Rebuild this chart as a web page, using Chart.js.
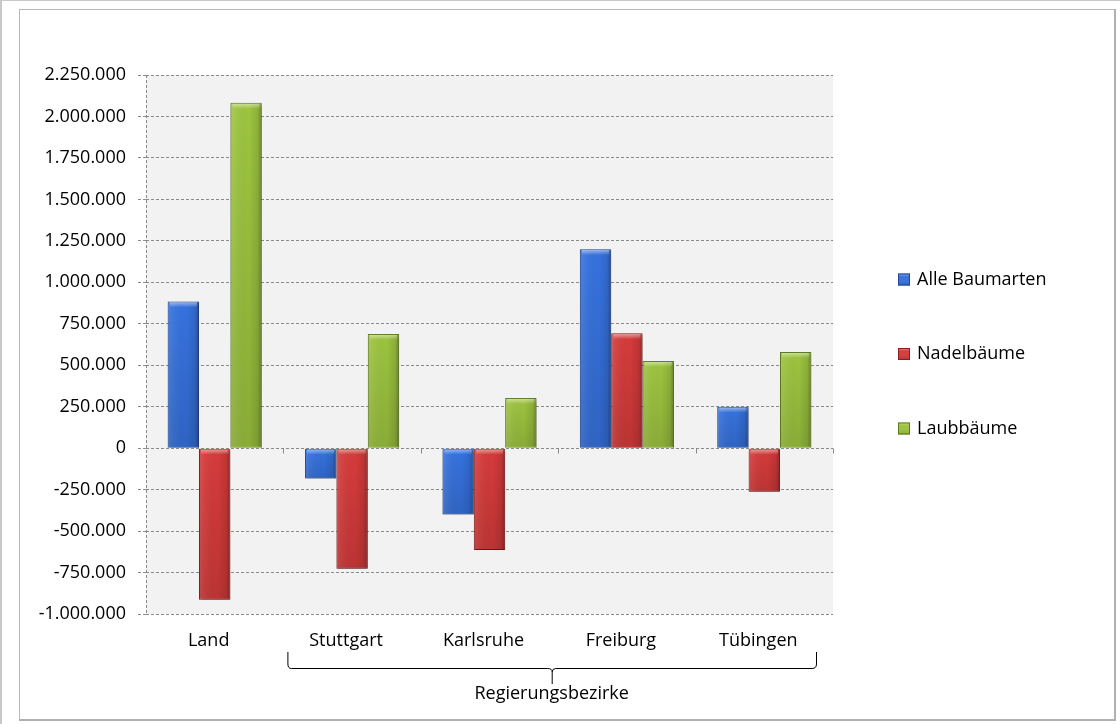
<!DOCTYPE html>
<html>
<head>
<meta charset="utf-8">
<script src="https://cdn.jsdelivr.net/npm/chart.js@4.4.1/dist/chart.umd.min.js"></script>
<style>
html,body{margin:0;padding:0;background:#fff;}
body{width:1120px;height:724px;overflow:hidden;position:relative;}
#outer{position:absolute;left:0;top:0;width:1120px;height:724px;border-left:2px solid #c8c8c8;border-top:1px solid #c8c8c8;box-sizing:border-box;}
#frame{position:absolute;left:19px;top:9px;width:1097px;height:712px;border:1px solid #b8b8b8;border-right:2px solid #b0b0b0;border-bottom:2px solid #b0b0b0;box-sizing:border-box;}
#c{position:absolute;left:0;top:0;}
</style>
</head>
<body>
<div id="outer"></div>
<div id="frame"></div>
<canvas id="c" width="1120" height="724"></canvas>
<script>
// ---- data ----
const categories = ["Land", "Stuttgart", "Karlsruhe", "Freiburg", "Tübingen"];
const seriesNames = ["Alle Baumarten", "Nadelbäume", "Laubbäume"];
const alleBaumarten = [885000, -183000, -400000, 1200000, 250000];
const nadelbaeume = [-914000, -727000, -614000, 693000, -263000];
const laubbaeume = [2082000, 689000, 303000, 526000, 580000];
const yMin = -1000000;
const yMax = 2250000;
const yStep = 250000;
const groupTitle = "Regierungsbezirke";

const FONT = "'Open Sans', 'Noto Sans', sans-serif";
const FSIZE = 18;
const fills = ["#3672de", "#d63b3b", "#9dc43f"];
const edges = ["#22478f", "#882020", "#5c7a20"];

function fmt(v) {
  const s = Math.abs(v).toString().replace(/\B(?=(\d{3})+(?!\d))/g, ".");
  return (v < 0 ? "-" : "") + s;
}

const plotBg = {
  id: "plotBg",
  beforeDraw(chart) {
    const {ctx, chartArea: a} = chart;
    ctx.save();
    ctx.fillStyle = "#f2f2f2";
    ctx.fillRect(a.left, a.top, a.right - a.left, a.bottom - a.top);
    ctx.restore();
  },
  beforeDatasetsDraw(chart) {
    const ctx = chart.ctx;
    ctx.save();
    ctx.shadowColor = "rgba(0,0,0,0.35)";
    ctx.shadowBlur = 3;
    ctx.shadowOffsetX = 1;
    ctx.shadowOffsetY = 2;
  },
  afterDatasetsDraw(chart) {
    const ctx = chart.ctx;
    ctx.restore();
    chart.data.datasets.forEach((ds, di) => {
      const meta = chart.getDatasetMeta(di);
      meta.data.forEach(el => {
        const w = el.width;
        const left = el.x - w / 2 + 1;
        const right = el.x + w / 2 - 1;
        const top = Math.min(el.y, el.base) + 1;
        const bottom = Math.max(el.y, el.base) - 1;
        if (bottom - top < 1) return;
        ctx.save();
        let g = ctx.createLinearGradient(left, 0, right, 0);
        g.addColorStop(0, "rgba(255,255,255,0.10)");
        g.addColorStop(0.12, "rgba(255,255,255,0.06)");
        g.addColorStop(0.6, "rgba(0,0,0,0)");
        g.addColorStop(0.9, "rgba(0,0,0,0.10)");
        g.addColorStop(1, "rgba(0,0,0,0.28)");
        ctx.fillStyle = g;
        ctx.fillRect(left, top, right - left, bottom - top);
        let gv = ctx.createLinearGradient(0, top, 0, bottom);
        gv.addColorStop(0, "rgba(0,0,0,0)");
        gv.addColorStop(1, "rgba(0,0,0,0.12)");
        ctx.fillStyle = gv;
        ctx.fillRect(left, top, right - left, bottom - top);
        const cap = Math.min(5, bottom - top);
        let gc = ctx.createLinearGradient(0, top, 0, top + cap);
        gc.addColorStop(0, "rgba(255,255,255,0.45)");
        gc.addColorStop(1, "rgba(255,255,255,0)");
        ctx.fillStyle = gc;
        ctx.fillRect(left + 1, top, right - left - 2, cap);
        ctx.restore();
      });
    });
  },
  afterDraw(chart) {
    const {ctx, chartArea: a, scales: {x, y}} = chart;
    ctx.save();
    ctx.strokeStyle = "#8a8a8a";
    ctx.lineWidth = 1;
    ctx.setLineDash([3, 2]);
    ctx.beginPath();
    ctx.moveTo(Math.round(a.left) + 0.5, a.top);
    ctx.lineTo(Math.round(a.left) + 0.5, a.bottom);
    ctx.stroke();
    ctx.setLineDash([]);
    const y0 = Math.round(y.getPixelForValue(0)) + 0.5;
    ctx.strokeStyle = "#8a8a8a";
    for (let i = 1; i <= categories.length; i++) {
      const px = Math.round(x.getPixelForValue(i - 0.5)) + 0.5;
      ctx.beginPath();
      ctx.moveTo(px, y0);
      ctx.lineTo(px, y0 + 5);
      ctx.stroke();
    }
    const bl = x.getPixelForValue(0.5) + 4;
    const br = x.getPixelForValue(categories.length - 0.5) - 17;
    const bc = (bl + br) / 2;
    const t = 652, h = 668, s = 684, r = 4;
    ctx.strokeStyle = "#000";
    ctx.lineWidth = 1;
    ctx.beginPath();
    ctx.moveTo(bl + 0.5, t);
    ctx.lineTo(bl + 0.5, h - r);
    ctx.quadraticCurveTo(bl + 0.5, h + 0.5, bl + r, h + 0.5);
    ctx.lineTo(bc - r, h + 0.5);
    ctx.quadraticCurveTo(bc + 0.5, h + 0.5, bc + 0.5, h + r);
    ctx.lineTo(bc + 0.5, s);
    ctx.moveTo(bc + 0.5, h + r);
    ctx.quadraticCurveTo(bc + 0.5, h + 0.5, bc + r, h + 0.5);
    ctx.lineTo(br - r, h + 0.5);
    ctx.quadraticCurveTo(br + 0.5, h + 0.5, br + 0.5, h - r);
    ctx.lineTo(br + 0.5, t);
    ctx.stroke();
    ctx.fillStyle = "#000";
    ctx.font = FSIZE + "px " + FONT;
    ctx.textAlign = "center";
    ctx.textBaseline = "middle";
    ctx.fillText(groupTitle, bc, 694);
    chart.data.datasets.forEach((ds, i) => {
      const cy = 279.5 + i * 74.5;
      const bx = 898, bs = 12;
      ctx.fillStyle = ds.backgroundColor;
      ctx.fillRect(bx, cy - bs / 2, bs, bs);
      const lg = ctx.createLinearGradient(0, cy - bs / 2, 0, cy + bs / 2);
      lg.addColorStop(0, "rgba(255,255,255,0.35)");
      lg.addColorStop(0.3, "rgba(255,255,255,0)");
      lg.addColorStop(1, "rgba(0,0,0,0.15)");
      ctx.fillStyle = lg;
      ctx.fillRect(bx, cy - bs / 2, bs, bs);
      ctx.strokeStyle = ds.borderColor;
      ctx.strokeRect(bx + 0.5, cy - bs / 2 + 0.5, bs - 1, bs - 1);
      ctx.fillStyle = "#000";
      ctx.textAlign = "left";
      ctx.fillText(ds.label, 917, cy);
    });
    ctx.restore();
  }
};

const seriesValues = [alleBaumarten, nadelbaeume, laubbaeume];

new Chart(document.getElementById("c"), {
  type: "bar",
  data: {
    labels: categories,
    datasets: seriesNames.map((n, i) => ({
      label: n,
      data: seriesValues[i],
      backgroundColor: fills[i],
      borderColor: edges[i],
      borderWidth: 1,
      barPercentage: 1.0,
      categoryPercentage: 0.685
    }))
  },
  options: {
    responsive: false,
    devicePixelRatio: 1,
    animation: false,
    layout: { padding: { top: 75, right: 287, left: 0, bottom: 0 } },
    plugins: {
      legend: { display: false },
      tooltip: { enabled: false }
    },
    scales: {
      x: {
        grid: { display: false, drawTicks: false },
        border: { display: false },
        ticks: { font: { family: FONT, size: FSIZE }, color: "#000", padding: 16, maxRotation: 0, labelOffset: -6 },
        afterFit(s) { s.height = 110; }
      },
      y: {
        min: yMin,
        max: yMax,
        grid: { color: "#8a8a8a", lineWidth: 1, tickLength: 8, tickColor: "#8a8a8a", tickBorderDash: [3, 2] },
        border: { display: false, dash: [3, 2] },
        ticks: {
          stepSize: yStep,
          font: { family: FONT, size: FSIZE },
          color: "#000",
          padding: 12,
          callback: v => fmt(v)
        },
        afterFit(s) { s.width = 146; }
      }
    }
  },
  plugins: [plotBg]
});
</script>
</body>
</html>
